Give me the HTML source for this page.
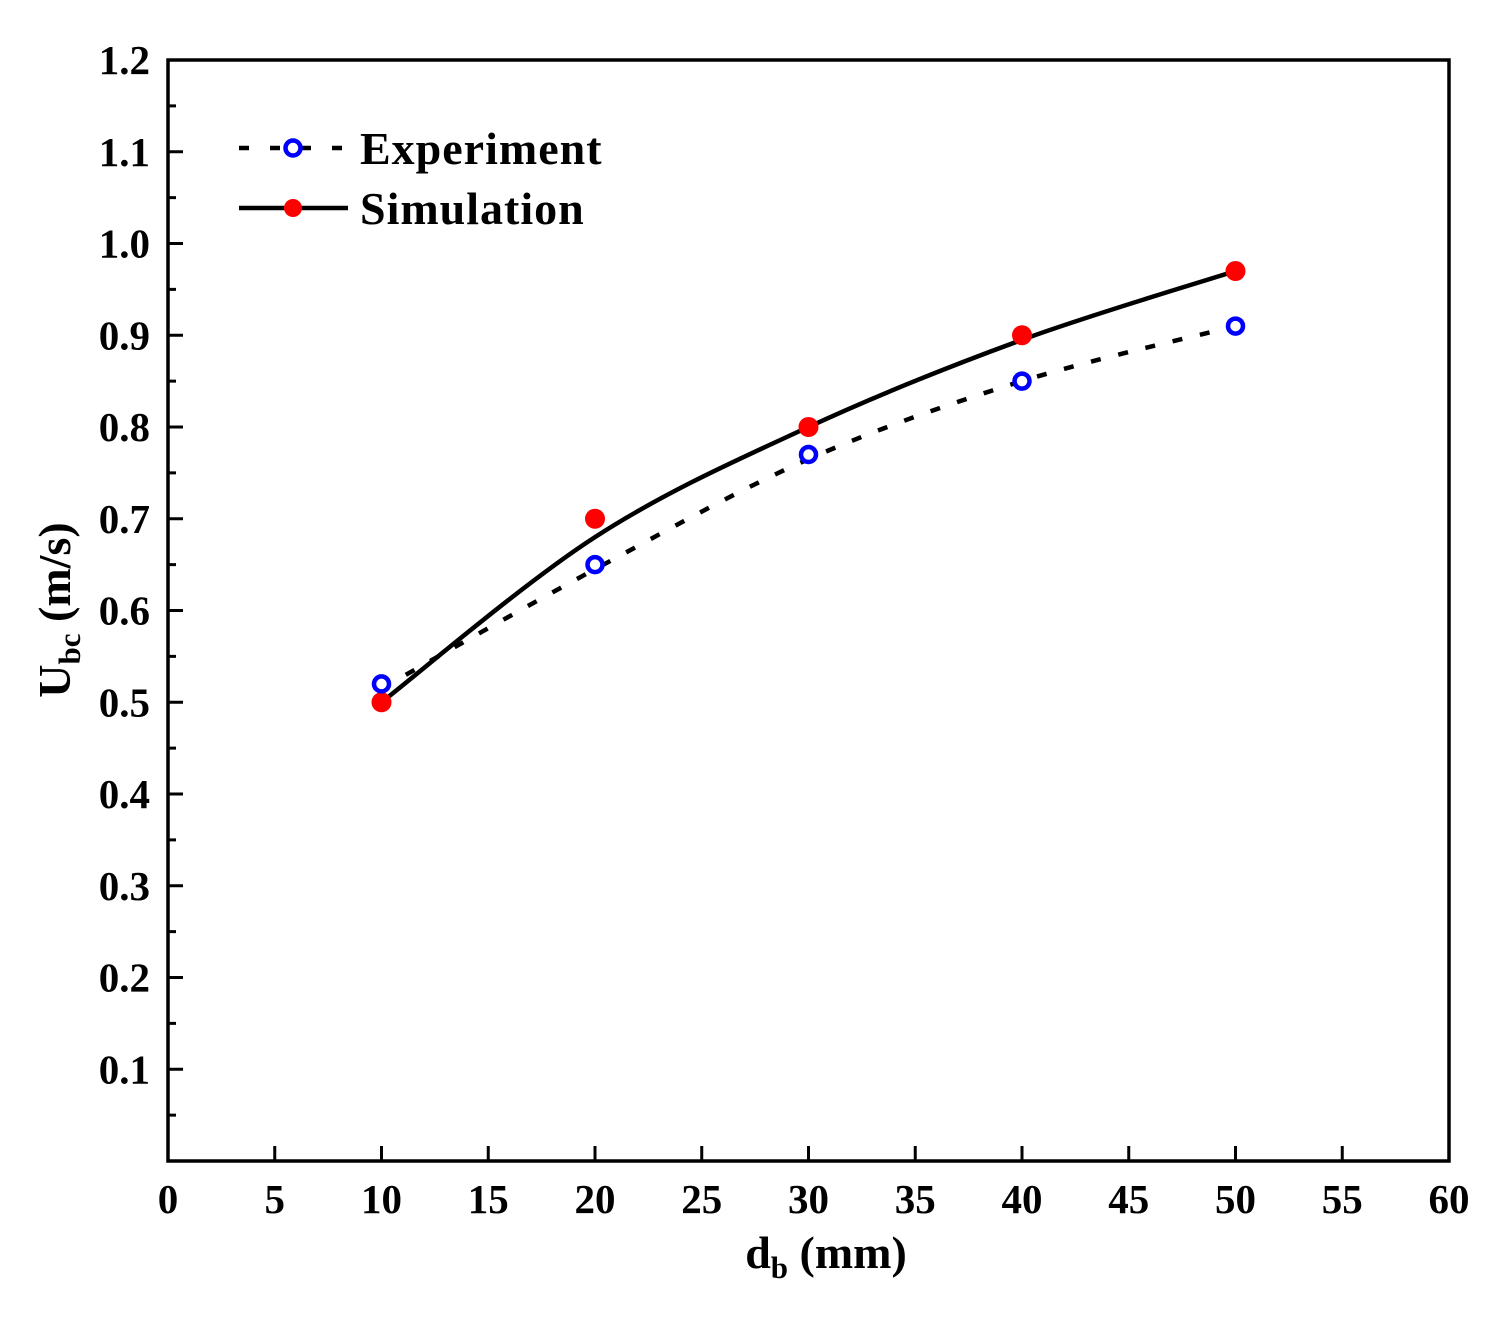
<!DOCTYPE html>
<html><head><meta charset="utf-8"><style>
body{margin:0;background:#fff}
svg text{font-family:"Liberation Serif",serif;font-weight:bold;fill:#000}
</style></head><body>
<svg id="chart" width="1506" height="1317" xmlns="http://www.w3.org/2000/svg"></svg>
<script>
const xCats=[10,20,30,40,50];
const expVals=[0.52,0.65,0.77,0.85,0.91];
const simVals=[0.50,0.70,0.80,0.90,0.97];
const expFit=[0.515,0.645,0.765,0.85,0.91];
const simFit=[0.50,0.68,0.80,0.895,0.97];
const xTicks=[0,5,10,15,20,25,30,35,40,45,50,55,60];
const yTicks=[0.1,0.2,0.3,0.4,0.5,0.6,0.7,0.8,0.9,1.0,1.1,1.2];
const X0=168,X1=1449,Y0=1161,Y1=60;
const sx=v=>X0+(X1-X0)*v/60, sy=v=>Y0-(Y0-Y1)*v/1.2;
const svg=document.getElementById('chart');const NS='http://www.w3.org/2000/svg';
function mk(t,a,p){const e=document.createElementNS(NS,t);for(const k in a)e.setAttribute(k,a[k]);(p||svg).appendChild(e);return e;}
const frame=mk('rect',{x:X0,y:Y1,width:X1-X0,height:Y0-Y1,fill:'none',stroke:'#000','stroke-width':3.5});


xTicks.forEach(v=>{
 const t=mk('line',{x1:sx(v),x2:sx(v),y1:Y0,y2:Y0-15,stroke:'#000','stroke-width':3});
 
 
 const l=mk('text',{x:sx(v),y:1213,'font-size':41,'text-anchor':'middle'});l.textContent=v;
 
 
});
for(let i=1;i<24;i++){const v=i*0.05;
 const t=mk('line',{x1:X0,x2:X0+(i%2?8:15),y1:sy(v),y2:sy(v),stroke:'#000','stroke-width':3});
 
 }
yTicks.forEach(v=>{
 const l=mk('text',{x:150,y:sy(v)+14,'font-size':41,'text-anchor':'end'});l.textContent=v.toFixed(1);
 
 
});
function curve(vals){const p=xCats.map((x,i)=>[sx(x),sy(vals[i])]);let d='M'+p[0];
 for(let i=0;i<p.length-1;i++){const a=p[i-1]||p[i],b=p[i],c=p[i+1],e=p[i+2]||c;
  d+=` C${b[0]+(c[0]-a[0])/6},${b[1]+(c[1]-a[1])/6} ${c[0]-(e[0]-b[0])/6},${c[1]-(e[1]-b[1])/6} ${c[0]},${c[1]}`;}return d;}
const el=mk('path',{d:curve(expFit),fill:'none',stroke:'#000','stroke-width':4.5,'stroke-dasharray':'10 18'});


const sl=mk('path',{d:curve(simFit),fill:'none',stroke:'#000','stroke-width':4.5});


xCats.forEach((x,i)=>{
 const s=mk('circle',{cx:sx(x),cy:sy(simVals[i]),r:10,fill:'#f00'});
 
 
 const e=mk('circle',{cx:sx(x),cy:sy(expVals[i]),r:7.5,fill:'#fff',stroke:'#00f','stroke-width':4.5});
 
 
});
const g=mk('g',{});
mk('line',{x1:239,x2:348,y1:148,y2:148,stroke:'#000','stroke-width':4.5,'stroke-dasharray':'10 21'},g);
mk('circle',{cx:293,cy:148,r:7.5,fill:'#fff',stroke:'#00f','stroke-width':4.5},g);
const t1=mk('text',{x:360,y:164,'font-size':46,'letter-spacing':1},g);t1.textContent='Experiment';
mk('line',{x1:239,x2:348,y1:208,y2:208,stroke:'#000','stroke-width':4.5},g);
mk('circle',{cx:293,cy:208,r:9,fill:'#f00'},g);
const t2=mk('text',{x:360,y:224,'font-size':46,'letter-spacing':1},g);t2.textContent='Simulation';
const xt=mk('text',{x:826,y:1268,'font-size':46,'text-anchor':'middle'});
xt.innerHTML='d<tspan font-size="31" dy="10">b</tspan><tspan dy="-10"> (mm)</tspan>';


const yt=mk('text',{x:0,y:0,'font-size':46,'text-anchor':'middle',transform:'translate(70,610) rotate(-90)'});
yt.innerHTML='U<tspan font-size="31" dy="10">bc</tspan><tspan dy="-10"> (m/s)</tspan>';


</script>
</body></html>
